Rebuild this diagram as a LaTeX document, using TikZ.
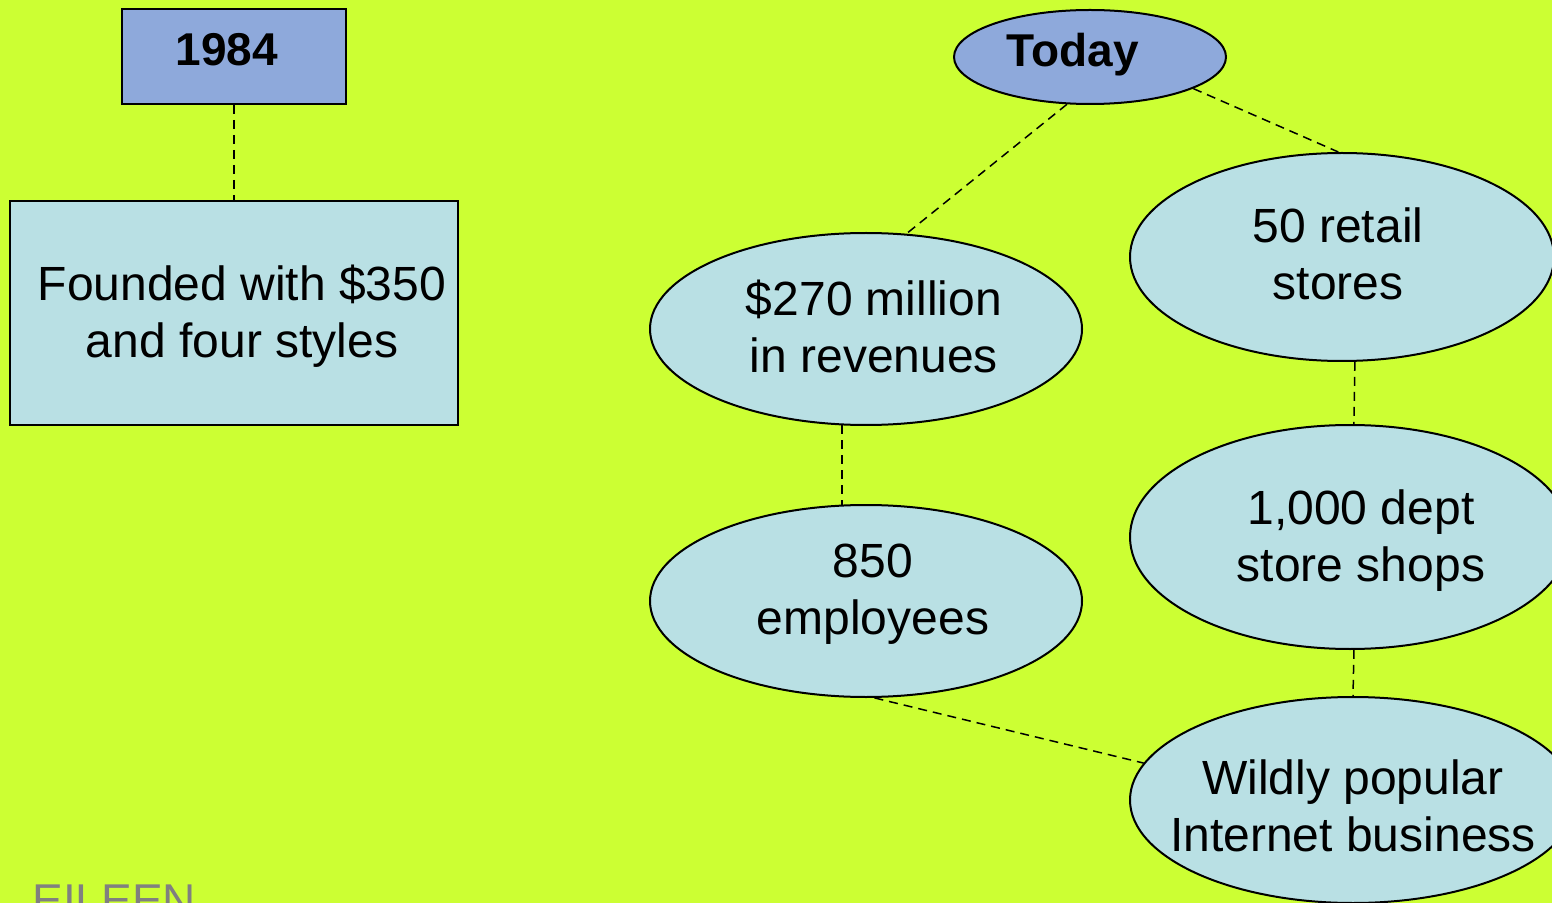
\documentclass[tikz,border=0pt]{standalone}
\usepackage{fontspec}
\setmainfont{Liberation Sans}
\usetikzlibrary{shapes.geometric}

\definecolor{bgLime}{RGB}{204,255,51}
\definecolor{headBlue}{RGB}{142,169,219}
\definecolor{cellBlue}{RGB}{185,224,228}
\definecolor{nameGray}{RGB}{128,128,128}

% text of a node, kept out of the size of its shape: #1 moves it right (twice), #2 raises it
\newcommand{\celltext}[3]{\makebox[0pt]{\hspace*{#1}\raisebox{#2}[\height][\depth]{\begin{tabular}{@{}c@{}}#3\end{tabular}}}}

\begin{document}
\begin{tikzpicture}[x=0.5pt, y=-0.5pt,
		head/.style={draw, fill=headBlue, line width=1pt, inner sep=0pt,
			font=\bfseries\fontsize{23}{28}\selectfont},
		fact/.style={draw, fill=cellBlue, line width=1pt, inner sep=0pt,
			font=\fontsize{24}{28.5}\selectfont},
		oval/.style={ellipse, fact},
		link/.style={draw, line width=0.75pt, dash pattern=on 4.5pt off 3pt}]
	\useasboundingbox (0,0) rectangle (1552,903);
	\fill[bgLime] (0,0) rectangle (1552,903);
	\clip (0,0) rectangle (1552,903);
	
	% 1984
	\node[head, minimum width=112pt, minimum height=47.5pt] (year) at (234, 56.5) {\celltext{-7pt}{1pt}{1984}};
	\node[fact, minimum width=224pt, minimum height=112pt] (found) at (234, 313) {\celltext{8pt}{-2.5pt}{Founded with \$350\\and four styles}};
	
	% today
	\node[head, ellipse, minimum width=136pt, minimum height=47pt] (today) at (1090, 57) {\celltext{-17pt}{1pt}{Today}};
	\node[oval, minimum width=216pt, minimum height=96pt] (rev) at (866, 329) {\celltext{8pt}{-1.75pt}{\$270 million\\in revenues}};
	\node[oval, minimum width=216pt, minimum height=96pt] (emp) at (866, 601) {\celltext{7pt}{3pt}{850\\employees}};
	\node[oval, minimum width=212pt, minimum height=104pt] (ret) at (1342, 257) {\celltext{-4pt}{-1.5pt}{50 retail\\stores}};
	\node[oval, minimum width=220pt, minimum height=112pt] (dept) at (1350, 537) {\celltext{11pt}{-2.5pt}{1,000 dept\\store shops}};
	\node[oval, minimum width=223pt, minimum height=103pt] (web) at (1353, 800) {\celltext{0pt}{-6pt}{Wildly popular\\Internet business}};
	
	% connectors
	\draw[link] (year.south) -- (found.north);
	\draw[link] (today.244) -- (rev.67);
	\draw[link] (today.343) -- (ret.92);
	\draw[link] (rev.256) -- (emp.104);
	\draw[link] (ret.277) -- (dept.88);
	\draw[link] (dept.272) -- (web.90);
	\draw[link] (emp.275) -- (web.170);
	
	\node[anchor=base west, inner sep=0pt, text=nameGray, font=\fontsize{23}{28}\selectfont] (author) at (32, 916) {EILEEN};
\end{tikzpicture}
\end{document}
